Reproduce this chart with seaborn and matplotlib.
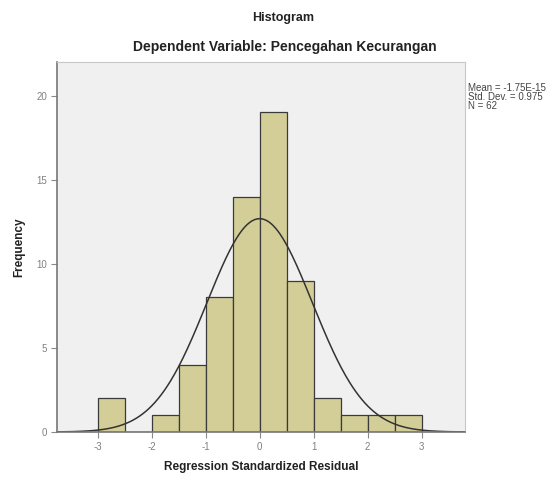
import numpy as np
import pandas as pd
import matplotlib
matplotlib.use("Agg")
import matplotlib.pyplot as plt
import seaborn as sns

# Data
bin_edges = [-3.0, -2.5, -2.0, -1.5, -1.0, -0.5, 0.0, 0.5, 1.0, 1.5, 2.0, 2.5, 3.0]
counts = [2, 0, 1, 4, 8, 14, 19, 9, 2, 1, 1, 1]
mean_val = -1.75e-15
sd_val = 0.975
n_val = 62
x_ticks = [-3, -2, -1, 0, 1, 2, 3]
y_ticks = [0, 5, 10, 15, 20]

sns.set_theme(style="white")
plt.rcParams['font.family'] = ['Liberation Sans', 'DejaVu Sans']

fig = plt.figure(figsize=(5.52, 4.79), dpi=100)
ax = fig.add_axes([57/552, 1-432/479, (465-57)/552, (432-62)/479])
ax.set_facecolor("#F0F0F0")

centers = [(bin_edges[i] + bin_edges[i+1]) / 2 for i in range(len(counts))]
df = pd.DataFrame({"x": centers, "w": counts})
sns.histplot(data=df, x="x", weights="w", bins=bin_edges, ax=ax,
             color="#D3CE97", alpha=1.0, edgecolor="#3a3a3a", linewidth=0.9)

# Normal curve from reported statistics
bw = bin_edges[1] - bin_edges[0]
xs = np.linspace(-3.75, 3.8, 400)
ys = n_val * bw / (sd_val * np.sqrt(2*np.pi)) * np.exp(-0.5*((xs-mean_val)/sd_val)**2)
sns.lineplot(x=xs, y=ys, ax=ax, color="#333333", linewidth=1.1)

ax.set_xlim(-3.75, 3.8)
ax.set_ylim(0, 22.0)
ax.set_xticks(x_ticks)
ax.set_xticklabels([str(t) for t in x_ticks])
ax.set_yticks(y_ticks)
ax.set_yticklabels([str(t) for t in y_ticks])
ax.tick_params(axis="both", which="both", length=4, width=0.8, color="#888888",
               labelcolor="#808080", labelsize=7, direction="out",
               bottom=True, left=True, pad=3)

for s in ["top", "right"]:
    ax.spines[s].set_color("#c8c8c8")
    ax.spines[s].set_linewidth(0.8)
for s in ["left", "bottom"]:
    ax.spines[s].set_color("#777777")
    ax.spines[s].set_linewidth(1.2)

ax.set_xlabel("Regression Standardized Residual", fontsize=8.5, fontweight="bold",
              color="#222222", labelpad=7)
ax.set_ylabel("Frequency", fontsize=8.5, fontweight="bold", color="#222222", labelpad=8)

fig.text(283/552, 1-18/479, "Histogram", ha="center", va="center",
         fontsize=9, fontweight="bold", color="#222222")
fig.text(285/552, 1-47/479, "Dependent Variable: Pencegahan Kecurangan", ha="center",
         va="center", fontsize=10, fontweight="bold", color="#222222")

fig.text(468/552, 1-83/479,
         "Mean = -1.75E-15\nStd. Dev. = 0.975\nN = 62",
         ha="left", va="top", fontsize=7, color="#444444", linespacing=0.9)

fig.savefig("out.png", dpi=100, facecolor="white")
